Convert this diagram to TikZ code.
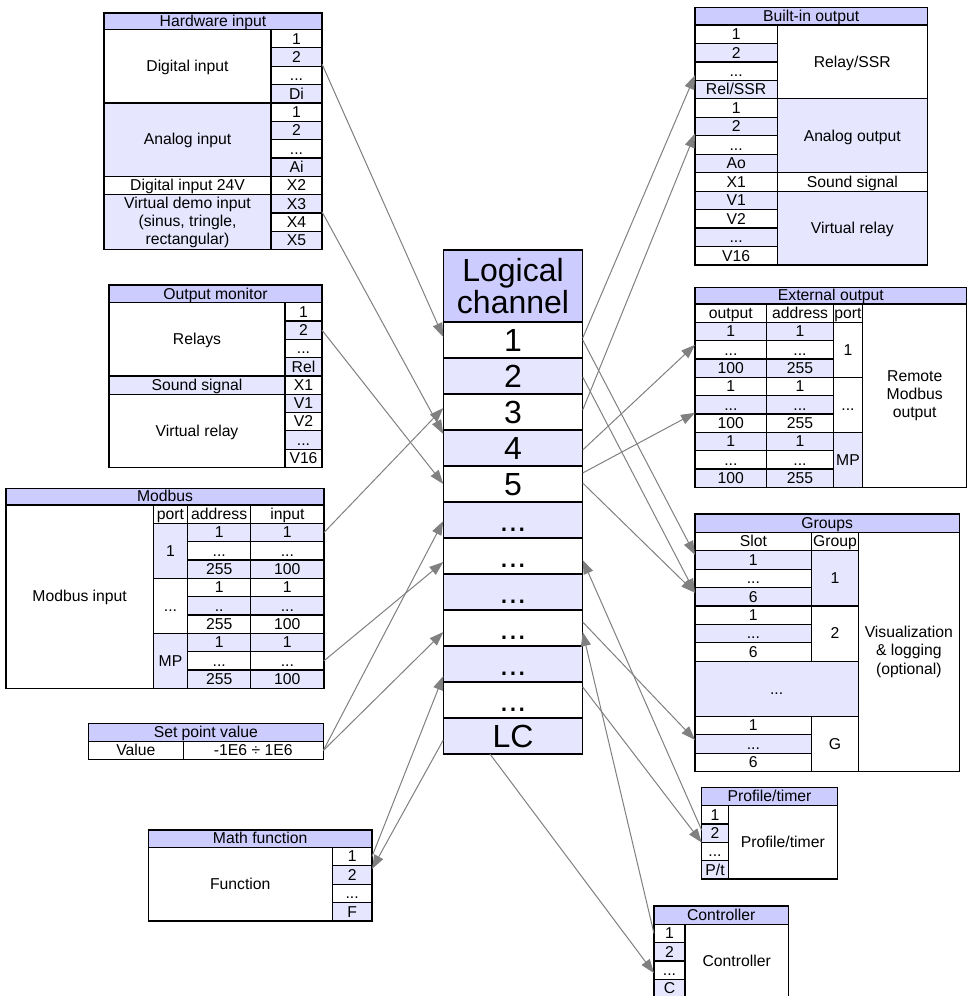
\documentclass[tikz,border=0pt]{standalone}
\usepackage{fontspec}
\setmainfont{Liberation Sans}
\usetikzlibrary{arrows.meta,calc}
\definecolor{hd}{RGB}{204,204,255}
\definecolor{sh}{RGB}{230,230,255}
\definecolor{cn}{RGB}{128,128,128}
\tikzset{
 cellbox/.style={draw=black, line width=0.9pt, rectangle, inner sep=0pt, outer sep=0pt, align=center,
   font=\fontsize{11.8}{13.6}\selectfont, text height=8.5pt, text depth=0.5pt},
 big/.style={font=\fontsize{24}{24}\selectfont, text height=17pt, text depth=0.5pt},
 multi/.style={text height=, text depth=},
 conn/.style={draw=cn, line width=0.75pt, -{Triangle[length=10.5pt,width=7.5pt]}},
}
\def\dd{...}
\def\dt{..}
\def\rs{Rel/SSR}
\def\ptx{P/t}
\newcommand\cel[8][]{%
  \pgfmathsetmacro\cw{((#5)-(#3))*0.75}%
  \pgfmathsetmacro\ch{((#6)-(#4))*0.75}%
  \node[cellbox,#1,fill=#7,minimum width=\cw pt,minimum height=\ch pt] (#2) at ({((#3)+(#5))/2},{((#4)+(#6))/2}) {#8};}
\def\ha#1{(29.5+18.35*(#1))}
\def\oa#1{(302.7+18.3*(#1))}
\def\ma#1{(505+18.33*(#1))}
\def\fa#1{(847.3+18.42*(#1))}
\def\la#1{(322+36*(#1))}
\def\ba#1{(25+18.46*(#1))}
\def\ea#1{(304+18.33*(#1))}
\def\ga#1{(532.3+18.4*(#1))}
\def\pa#1{(805.7+18.33*(#1))}
\def\ca#1{(924.3+18.33*(#1))}
\begin{document}
\begin{tikzpicture}[x=0.75pt,y=-0.75pt]
\fill[white] (0,0) rectangle (969,996);
\useasboundingbox (0,0) rectangle (969,996);
% Hardware input
\cel{hwt}{104}{13}{322}{29.5}{hd}{Hardware input}
\cel{hwdi}{104}{\ha0}{271}{\ha4}{white}{Digital input}
\cel{hwai}{104}{\ha4}{271}{\ha8}{sh}{Analog input}
\cel{hwdv}{104}{\ha8}{271}{\ha9}{white}{Digital input 24V}
\cel[multi]{hwvd}{104}{\ha9}{271}{\ha{12}}{sh}{Virtual demo input\\(sinus, tringle,\\rectangular)}
\foreach \t/\f [count=\i from 0] in {1/white,2/sh,\dd/white,Di/sh,1/white,2/sh,\dd/white,Ai/sh,X2/white,X3/sh,X4/white,X5/sh}{
  \cel{hwr\i}{271}{\ha{\i}}{322}{\ha{\i+1}}{\f}{\t}}
% Output monitor
\cel{omt}{109}{285}{322}{302.7}{hd}{Output monitor}
\cel{omrel}{109}{\oa0}{285}{\oa4}{white}{Relays}
\cel{omss}{109}{\oa4}{285}{\oa5}{sh}{Sound signal}
\cel{omvr}{109}{\oa5}{285}{\oa9}{white}{Virtual relay}
\foreach \t/\f [count=\i from 0] in {1/white,2/sh,\dd/white,Rel/sh,X1/white,V1/sh,V2/white,\dd/sh,V16/white}{
  \cel{omr\i}{285}{\oa{\i}}{322}{\oa{\i+1}}{\f}{\t}}
% Modbus
\cel{mbt}{6}{488.3}{324}{505}{hd}{Modbus}
\cel{mbin}{6}{505}{153.3}{\ma{10}}{white}{Modbus input}
\cel{mbhp}{153.3}{\ma0}{187.7}{\ma1}{white}{port}
\cel{mbha}{187.7}{\ma0}{250.7}{\ma1}{white}{address}
\cel{mbhi}{250.7}{\ma0}{324}{\ma1}{white}{input}
\cel{mbp1}{153.3}{\ma1}{187.7}{\ma4}{sh}{1}
\cel{mbp2}{153.3}{\ma4}{187.7}{\ma7}{white}{\dd}
\cel{mbp3}{153.3}{\ma7}{187.7}{\ma{10}}{sh}{MP}
\foreach \a/\b/\f [count=\i from 1] in {1/1/sh,\dd/\dd/white,255/100/sh,1/1/white,\dt/\dd/sh,255/100/white,1/1/sh,\dd/\dd/white,255/100/sh}{
  \cel{mba\i}{187.7}{\ma{\i}}{250.7}{\ma{\i+1}}{\f}{\a}
  \cel{mbi\i}{250.7}{\ma{\i}}{324}{\ma{\i+1}}{\f}{\b}}
% Set point value
\cel{spt}{88.3}{723.3}{323.3}{741.7}{hd}{Set point value}
\cel{spl}{88.3}{741.7}{183.3}{759.3}{white}{Value}
\cel{spv}{183.3}{741.7}{323.3}{759.3}{white}{-1E6 ÷ 1E6}
% Math function
\cel{mft}{148.3}{830}{372}{847.3}{hd}{Math function}
\cel{mff}{148.3}{\fa0}{332.3}{\fa4}{white}{Function}
\foreach \t/\f [count=\i from 0] in {1/white,2/sh,\dd/white,F/sh}{
  \cel{mfr\i}{332.3}{\fa{\i}}{372}{\fa{\i+1}}{\f}{\t}}
% Logical channel
\cel[big,multi]{lct}{443.3}{250}{582.7}{322}{hd}{Logical\\channel}
\foreach \t/\f [count=\i from 1] in {1/white,2/sh,3/white,4/sh,5/white,\dd/sh,\dd/white,\dd/sh,\dd/white,\dd/sh,\dd/white,LC/sh}{
  \cel[big]{lc\i}{443.3}{\la{\i-1}}{582.7}{\la{\i}}{\f}{\t}}
% Built-in output
\cel{bit}{695}{7.3}{927.3}{25}{hd}{Built-in output}
\foreach \t/\f [count=\i from 0] in {1/white,2/sh,\dd/white,\rs/sh,1/white,2/sh,\dd/white,Ao/sh,X1/white,V1/sh,V2/white,\dd/sh,V16/white}{
  \cel{bil\i}{695}{\ba{\i}}{777.3}{\ba{\i+1}}{\f}{\t}}
\cel{birs}{777.3}{\ba0}{927.3}{\ba4}{white}{Relay/SSR}
\cel{biao}{777.3}{\ba4}{927.3}{\ba8}{sh}{Analog output}
\cel{biss}{777.3}{\ba8}{927.3}{\ba9}{white}{Sound signal}
\cel{bivr}{777.3}{\ba9}{927.3}{\ba{13}}{sh}{Virtual relay}
% External output
\cel{eot}{695}{287.3}{966.7}{304}{hd}{External output}
\cel{eoho}{695}{\ea0}{766.7}{\ea1}{white}{output}
\cel{eoha}{766.7}{\ea0}{833.3}{\ea1}{white}{address}
\cel{eohp}{833.3}{\ea0}{862.7}{\ea1}{white}{port}
\cel[multi]{eorm}{862.7}{\ea0}{966.7}{\ea{10}}{white}{Remote\\Modbus\\output}
\foreach \a/\b/\f [count=\i from 1] in {1/1/sh,\dd/\dd/white,100/255/sh,1/1/white,\dd/\dd/sh,100/255/white,1/1/sh,\dd/\dd/white,100/255/sh}{
  \cel{eoo\i}{695}{\ea{\i}}{766.7}{\ea{\i+1}}{\f}{\a}
  \cel{eoa\i}{766.7}{\ea{\i}}{833.3}{\ea{\i+1}}{\f}{\b}}
\cel{eop1}{833.3}{\ea1}{862.7}{\ea4}{white}{1}
\cel{eop2}{833.3}{\ea4}{862.7}{\ea7}{white}{\dd}
\cel{eop3}{833.3}{\ea7}{862.7}{\ea{10}}{sh}{MP}
% Groups
\cel{grt}{695}{514}{959.3}{532.3}{hd}{Groups}
\cel{grhs}{695}{\ga0}{811.7}{\ga1}{white}{Slot}
\cel{grhg}{811.7}{\ga0}{858.3}{\ga1}{white}{Group}
\cel[multi]{grvl}{858.3}{\ga0}{959.3}{\ga{13}}{white}{Visualization\\\& logging\\(optional)}
\foreach \t/\f [count=\i from 1] in {1/sh,\dd/white,6/sh,1/white,\dd/sh,6/white}{
  \cel{grs\i}{695}{\ga{\i}}{811.7}{\ga{\i+1}}{\f}{\t}}
\cel{grdd}{695}{\ga7}{858.3}{\ga{10}}{sh}{\dd}
\foreach \t/\f [count=\i from 10] in {1/white,\dd/sh,6/white}{
  \cel{grs\i}{695}{\ga{\i}}{811.7}{\ga{\i+1}}{\f}{\t}}
\cel{grg1}{811.7}{\ga1}{858.3}{\ga4}{sh}{1}
\cel{grg2}{811.7}{\ga4}{858.3}{\ga7}{white}{2}
\cel{grg3}{811.7}{\ga{10}}{858.3}{\ga{13}}{white}{G}
% Profile/timer
\cel{ptt}{701.7}{787.3}{837.3}{805.7}{hd}{Profile/timer}
\foreach \t/\f [count=\i from 0] in {1/white,2/sh,\dd/white,\ptx/sh}{
  \cel{ptr\i}{701.7}{\pa{\i}}{728.3}{\pa{\i+1}}{\f}{\t}}
\cel{ptm}{728.3}{\pa0}{837.3}{\pa4}{white}{Profile/timer}
% Controller
\cel{ctt}{654}{906}{788.3}{924.3}{hd}{Controller}
\foreach \t/\f [count=\i from 0] in {1/white,2/sh,\dd/white,C/sh}{
  \cel{ctr\i}{654}{\ca{\i}}{685}{\ca{\i+1}}{\f}{\t}}
\cel{ctm}{685}{\ca0}{788.3}{\ca4}{white}{Controller}
% Connectors, left side
\draw[conn] ($(hwr1.east)+(0,7)$) -- ($(lc1.west)+(0,-3)$);
\draw[conn] ($(hwr9.east)+(0,8)$) -- ($(lc4.west)+(0,-14)$);
\draw[conn] (omr1.east) -- (lc5.west);
\draw[conn] (mbi1.east) -- ($(lc3.west)+(0,-4)$);
\draw[conn] (mbi8.east) -- ($(lc7.west)+(0,6)$);
\draw[conn] (spv.east) -- ($(lc6.west)+(0,1)$);
\draw[conn] (spv.east) -- ($(lc9.west)+(0,4)$);
\draw[conn] (mfr0.east) -- ($(lc10.west)+(0,12)$);
\draw[conn] ($(lc12.west)+(0,4)$) -- ($(mfr1.east)+(0,-6)$);
% Connectors, right side
\draw[conn] ($(lc1.east)+(0,-2)$) -- ($(bil2.west)+(0,4)$);
\draw[conn] ($(lc3.east)+(0,-2)$) -- ($(bil5.west)+(0,7)$);
\draw[conn] ($(lc4.east)+(0,2)$) -- ($(eoo2.west)+(0,-5)$);
\draw[conn] ($(lc5.east)+(0,-11)$) -- ($(eoo5.west)+(0,8)$);
\draw[conn] (lc1.east) -- ($(grs1.west)+(0,-5)$);
\draw[conn] ($(lc2.east)+(0,1)$) -- ($(grs3.west)+(0,-4)$);
\draw[conn] ($(lc5.east)+(0,-1)$) -- ($(grs3.west)+(0,-4)$);
\draw[conn] ($(lc9.east)+(0,-6)$) -- ($(grs11.west)+(0,-4)$);
\draw[conn] ($(lc11.east)+(0,-13)$) -- ($(ptr2.west)+(0,-9)$);
\draw[conn] ($(ptr1.west)+(0,-3)$) -- ($(lc7.east)+(0,4)$);
\draw[conn] (ctr0.west) -- ($(lc9.east)+(0,4)$);
\draw[conn] ($(lc12.south)+(-23,0)$) -- ($(ctr2.west)+(0,3)$);
\end{tikzpicture}
\end{document}
